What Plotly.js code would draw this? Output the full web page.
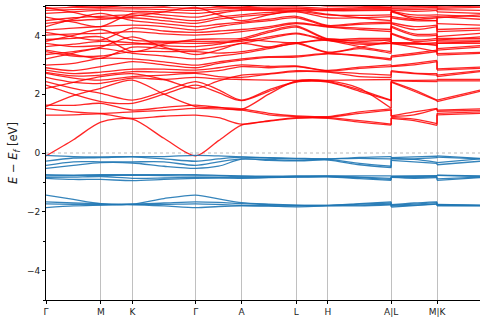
<!DOCTYPE html>
<html><head><meta charset="utf-8">
<script src="https://cdn.plot.ly/plotly-3.0.1.min.js"></script>
<style>html,body{margin:0;padding:0;background:#fff}#chart{width:480px;height:320px}</style>
</head><body><div id="chart"></div>
<script>
// k-path sample positions: Γ, ·, M, K, ·, Γ, ·, A, ·, L, H, ·, A | L, ·, M | K, end
const kPath = [0, 0.289, 0.577, 0.91, 1.243, 1.577, 1.818, 2.06, 2.348, 2.637, 2.97, 3.303, 3.637, 3.637, 3.878, 4.12, 4.12, 4.573];
const kTicks = [0, 0.577, 0.91, 1.577, 2.06, 2.637, 2.97, 3.637, 4.12];
const kLabels = ['Γ', 'M', 'K', 'Γ', 'A', 'L', 'H', 'A|L', 'M|K'];
const yTicks = [-4, -2, 0, 2, 4];
const yLabels = ['−4', '−2', '0', '2', '4'];

// valence bands (eV)
const v01 = [-0.08, -0.12, -0.13, -0.12, -0.12, -0.08, -0.10, -0.13, -0.16, -0.18, -0.20, -0.15, -0.12, -0.16, -0.13, -0.11, -0.10, -0.18];
const v02 = [-0.28, -0.17, -0.16, -0.13, -0.20, -0.28, -0.20, -0.14, -0.17, -0.20, -0.20, -0.18, -0.20, -0.18, -0.20, -0.16, -0.14, -0.20];
const v03 = [-0.42, -0.30, -0.30, -0.30, -0.30, -0.42, -0.30, -0.20, -0.22, -0.25, -0.22, -0.35, -0.45, -0.20, -0.22, -0.32, -0.33, -0.20];
const v04 = [-0.52, -0.42, -0.33, -0.34, -0.45, -0.52, -0.45, -0.21, -0.25, -0.27, -0.24, -0.40, -0.50, -0.25, -0.30, -0.35, -0.40, -0.28];
const v05 = [-0.74, -0.75, -0.74, -0.74, -0.74, -0.74, -0.76, -0.78, -0.79, -0.78, -0.78, -0.78, -0.78, -0.79, -0.78, -0.77, -0.75, -0.78];
const v06 = [-0.78, -0.77, -0.76, -0.76, -0.77, -0.78, -0.78, -0.80, -0.81, -0.80, -0.79, -0.82, -0.86, -0.80, -0.80, -0.79, -0.76, -0.80];
const v07 = [-0.83, -0.82, -0.80, -0.86, -0.85, -0.83, -0.83, -0.84, -0.83, -0.81, -0.80, -0.84, -0.90, -0.81, -0.83, -0.81, -0.88, -0.82];
const v08 = [-0.86, -0.90, -0.90, -0.94, -0.90, -0.86, -0.85, -0.86, -0.84, -0.82, -0.81, -0.87, -0.93, -0.83, -0.86, -0.84, -0.93, -0.84];
const v09 = [-1.43, -1.58, -1.72, -1.74, -1.55, -1.43, -1.56, -1.69, -1.74, -1.77, -1.78, -1.72, -1.66, -1.76, -1.70, -1.66, -1.75, -1.77];
const v10 = [-1.66, -1.70, -1.73, -1.74, -1.70, -1.66, -1.68, -1.72, -1.76, -1.78, -1.78, -1.74, -1.70, -1.78, -1.74, -1.69, -1.76, -1.78];
const v11 = [-1.73, -1.75, -1.76, -1.75, -1.75, -1.73, -1.75, -1.78, -1.79, -1.80, -1.79, -1.77, -1.74, -1.81, -1.77, -1.73, -1.78, -1.79];
const v12 = [-1.86, -1.80, -1.77, -1.76, -1.80, -1.86, -1.82, -1.80, -1.81, -1.83, -1.80, -1.80, -1.76, -1.84, -1.79, -1.74, -1.80, -1.80];

// conduction bands (eV)
const c01 = [-0.10, 0.45, 1.05, 1.15, 0.50, -0.10, 0.42, 0.95, 1.08, 1.18, 1.18, 1.05, 0.95, 1.18, 1.10, 0.94, 1.30, 1.35];
const c02 = [1.29, 1.30, 1.33, 1.18, 1.25, 1.29, 1.20, 0.98, 1.10, 1.20, 1.20, 1.10, 0.98, 1.20, 1.15, 1.00, 1.35, 1.40];
const c03 = [1.52, 1.40, 1.35, 1.40, 1.45, 1.52, 1.50, 1.46, 1.30, 1.24, 1.22, 1.35, 1.46, 1.24, 1.30, 1.50, 1.42, 1.45];
const c04 = [1.63, 1.62, 1.69, 1.46, 1.55, 1.63, 1.55, 1.50, 1.35, 1.26, 1.24, 1.40, 1.50, 1.26, 1.40, 1.52, 1.46, 1.50];
const c05 = [2.31, 2.00, 1.75, 1.69, 2.00, 2.31, 2.05, 1.78, 2.10, 2.41, 2.41, 2.10, 1.78, 2.41, 2.10, 1.78, 1.75, 2.10];
const c06 = [2.43, 2.20, 2.03, 1.80, 2.10, 2.43, 2.15, 1.80, 2.15, 2.43, 2.43, 2.15, 1.80, 2.43, 2.15, 1.80, 1.80, 2.14];
const c07 = [1.58, 1.95, 2.20, 2.48, 2.00, 1.58, 1.55, 1.48, 2.00, 2.45, 2.45, 2.20, 1.52, 2.45, 2.44, 2.43, 2.45, 2.45];
const c08 = [2.57, 2.40, 2.37, 2.55, 2.50, 2.57, 2.52, 2.50, 2.48, 2.47, 2.47, 2.49, 2.50, 2.47, 2.47, 2.48, 2.50, 2.50];
const c09 = [2.71, 2.55, 2.48, 2.60, 2.65, 2.71, 2.60, 2.57, 2.68, 2.77, 2.75, 2.60, 2.57, 2.77, 2.70, 2.65, 2.60, 2.77];
const c10 = [2.20, 2.40, 2.60, 2.70, 2.50, 2.20, 2.45, 2.65, 2.70, 2.80, 2.77, 2.70, 2.65, 2.80, 2.72, 2.70, 2.65, 2.80];
const c11 = [2.74, 2.62, 2.65, 2.77, 2.75, 2.74, 2.80, 2.94, 2.90, 2.94, 2.79, 2.88, 2.94, 2.94, 3.00, 3.11, 2.82, 2.88];
const c12 = [2.82, 2.70, 2.75, 2.85, 2.85, 2.82, 2.90, 3.00, 2.95, 2.96, 2.81, 2.92, 3.00, 2.96, 3.05, 3.15, 2.86, 2.92];
const c13 = [2.90, 2.80, 2.94, 3.11, 3.00, 2.90, 3.05, 3.16, 3.25, 3.26, 3.37, 3.30, 3.16, 3.26, 3.35, 3.45, 3.33, 3.39];
const c14 = [2.99, 3.05, 3.22, 3.20, 3.10, 2.99, 3.10, 3.20, 3.28, 3.30, 3.39, 3.32, 3.20, 3.30, 3.40, 3.50, 3.38, 3.42];
const c15 = [3.20, 3.40, 3.56, 3.39, 3.30, 3.20, 3.30, 3.39, 3.55, 3.72, 3.41, 3.55, 3.39, 3.72, 3.70, 3.70, 3.50, 3.60];
const c16 = [3.45, 3.30, 3.30, 3.45, 3.45, 3.45, 3.40, 3.45, 3.60, 3.75, 3.43, 3.60, 3.80, 3.75, 3.72, 3.75, 3.55, 3.65];
const c17 = [3.50, 3.35, 3.22, 3.60, 3.55, 3.50, 3.60, 3.73, 3.90, 4.05, 3.82, 3.75, 3.73, 4.05, 3.80, 3.84, 3.73, 3.73];
const c18 = [3.73, 3.62, 3.65, 3.70, 3.75, 3.73, 3.75, 3.80, 3.95, 4.08, 3.84, 3.62, 3.45, 4.08, 3.85, 3.90, 3.78, 3.78];
const c19 = [3.80, 4.00, 4.20, 3.84, 3.80, 3.80, 3.80, 3.85, 4.10, 4.28, 3.86, 3.85, 3.85, 4.28, 4.00, 4.00, 3.84, 3.84];
const c20 = [3.86, 3.90, 3.95, 3.45, 3.70, 3.86, 3.88, 3.90, 4.15, 4.32, 3.88, 3.90, 3.90, 4.32, 4.05, 4.05, 3.90, 3.90];
const c21 = [4.01, 4.05, 4.07, 4.13, 4.05, 4.01, 4.05, 4.13, 4.25, 4.40, 4.28, 4.20, 4.13, 4.40, 4.20, 4.30, 3.96, 4.07];
const c22 = [4.10, 3.95, 3.84, 4.25, 4.15, 4.10, 4.15, 4.20, 4.30, 4.43, 4.30, 4.25, 4.20, 4.43, 4.30, 4.35, 4.13, 4.18];
const c23 = [4.18, 4.25, 4.30, 4.35, 4.30, 4.18, 4.30, 4.41, 4.50, 4.60, 4.32, 4.38, 4.41, 4.60, 4.50, 4.50, 4.20, 4.25];
const c24 = [4.30, 4.55, 4.75, 4.50, 4.40, 4.30, 4.38, 4.45, 4.55, 4.65, 4.34, 4.42, 4.45, 4.65, 4.55, 4.60, 4.40, 4.35];
const c25 = [4.41, 4.50, 4.55, 4.60, 4.50, 4.41, 4.55, 4.64, 4.72, 4.80, 4.60, 4.60, 4.64, 4.80, 4.62, 4.64, 4.64, 4.55];
const c26 = [4.50, 4.60, 4.65, 4.70, 4.60, 4.50, 4.62, 4.70, 4.78, 4.82, 4.70, 4.68, 4.70, 4.82, 4.70, 4.70, 4.70, 4.64];
const c27 = [4.62, 4.45, 4.30, 4.75, 4.70, 4.62, 4.75, 4.85, 4.85, 4.86, 4.84, 4.84, 4.85, 4.86, 4.82, 4.85, 4.80, 4.75];
const c28 = [4.75, 4.80, 4.85, 4.82, 4.80, 4.75, 4.82, 4.88, 4.88, 4.90, 4.86, 4.87, 4.88, 4.90, 4.88, 4.90, 4.88, 4.85];
const c29 = [4.85, 4.88, 4.90, 4.90, 4.88, 4.85, 4.90, 4.92, 4.91, 4.93, 4.88, 4.90, 4.92, 4.93, 4.93, 4.95, 4.92, 4.95];
const c30 = [4.92, 4.95, 4.97, 4.95, 4.95, 4.92, 4.96, 4.95, 4.96, 4.97, 4.92, 4.94, 4.95, 4.97, 4.97, 4.98, 4.96, 5.00];
const c31 = [5.10, 5.00, 4.95, 5.05, 5.00, 5.10, 4.98, 4.96, 5.05, 5.10, 5.00, 5.00, 4.96, 5.10, 5.00, 5.05, 5.00, 5.10];
const c32 = [4.95, 4.78, 4.60, 4.65, 4.80, 4.95, 4.70, 4.50, 4.70, 4.85, 4.72, 4.60, 4.50, 4.85, 4.55, 4.50, 4.60, 4.70];
const c33 = [3.35, 3.45, 3.60, 3.95, 3.60, 3.35, 3.50, 3.73, 3.60, 3.73, 3.84, 3.70, 3.73, 3.73, 3.60, 3.45, 3.73, 3.80];
const c34 = [3.62, 3.70, 3.80, 3.75, 3.65, 3.62, 3.70, 3.85, 3.80, 3.75, 3.88, 3.80, 3.85, 3.75, 3.75, 3.65, 3.84, 3.95];

const valence = [v01, v02, v03, v04, v05, v06, v07, v08, v09, v10, v11, v12];
const conduction = [c01, c02, c03, c04, c05, c06, c07, c08, c09, c10, c11, c12, c13, c14, c15, c16, c17,
  c18, c19, c20, c21, c22, c23, c24, c25, c26, c27, c28, c29, c30, c31, c32, c33, c34];

// split each band at the path discontinuities (A|L at index 12/13, M|K at 15/16)
function bandXY(e) {
  const x = [], y = [];
  const push = (i) => { x.push(kPath[i]); y.push(e[i]); };
  for (let i = 0; i <= 12; i++) push(i);
  x.push(null); y.push(null);
  push(12); push(13);
  x.push(null); y.push(null);
  for (let i = 13; i <= 15; i++) push(i);
  x.push(null); y.push(null);
  push(15); push(16);
  x.push(null); y.push(null);
  for (let i = 16; i <= 17; i++) push(i);
  return {x, y};
}

const traces = [];
conduction.forEach(b => {
  const d = bandXY(b);
  traces.push({x: d.x, y: d.y, type: 'scatter', mode: 'lines', hoverinfo: 'skip', connectgaps: false,
    line: {color: 'rgba(255,0,0,0.85)', width: 1.3, shape: 'spline', smoothing: 0.8}, showlegend: false});
});
valence.forEach(b => {
  const d = bandXY(b);
  traces.push({x: d.x, y: d.y, type: 'scatter', mode: 'lines', hoverinfo: 'skip', connectgaps: false,
    line: {color: 'rgba(31,119,180,0.9)', width: 1.3, shape: 'spline', smoothing: 0.8}, showlegend: false});
});

const layout = {
  width: 480, height: 320,
  margin: {l: 46, r: 0, t: 6, b: 20},
  paper_bgcolor: '#fff', plot_bgcolor: '#fff',
  font: {family: 'DejaVu Sans', size: 9, color: '#222'},
  showlegend: false,
  xaxis: {
    range: [0, 4.573], tickmode: 'array', tickvals: kTicks, ticktext: kLabels,
    showgrid: true, gridcolor: '#b0b0b0', gridwidth: 0.8,
    zeroline: false, showline: true, linecolor: '#000', linewidth: 1, mirror: true,
    ticks: 'outside', ticklen: 3, tickcolor: '#000', tickfont: {size: 9, family: 'DejaVu Sans', color: '#222'}
  },
  yaxis: {
    range: [-5, 5], tickmode: 'array', tickvals: yTicks, ticktext: yLabels,
    showgrid: false, zeroline: false, showline: true, linecolor: '#000', linewidth: 1,
    ticks: 'outside', ticklen: 3, tickcolor: '#000', tickfont: {size: 9, family: 'DejaVu Sans', color: '#222'},
    minor: {dtick: 1, tick0: 1, ticks: 'outside', ticklen: 2, tickcolor: '#000', showgrid: false},
    title: {text: '<i>E</i> − <i>E</i><sub><i>f</i></sub> [eV]', font: {size: 11.5, family: 'DejaVu Sans', color: '#222'}, standoff: 6}
  },
  shapes: [{type: 'line', xref: 'paper', yref: 'y', x0: 0, x1: 1, y0: 0, y1: 0,
    line: {color: '#aaaaaa', width: 0.8, dash: 'dot'}, layer: 'below'}]
};
Plotly.newPlot('chart', traces, layout, {staticPlot: true, displayModeBar: false});
</script></body></html>
